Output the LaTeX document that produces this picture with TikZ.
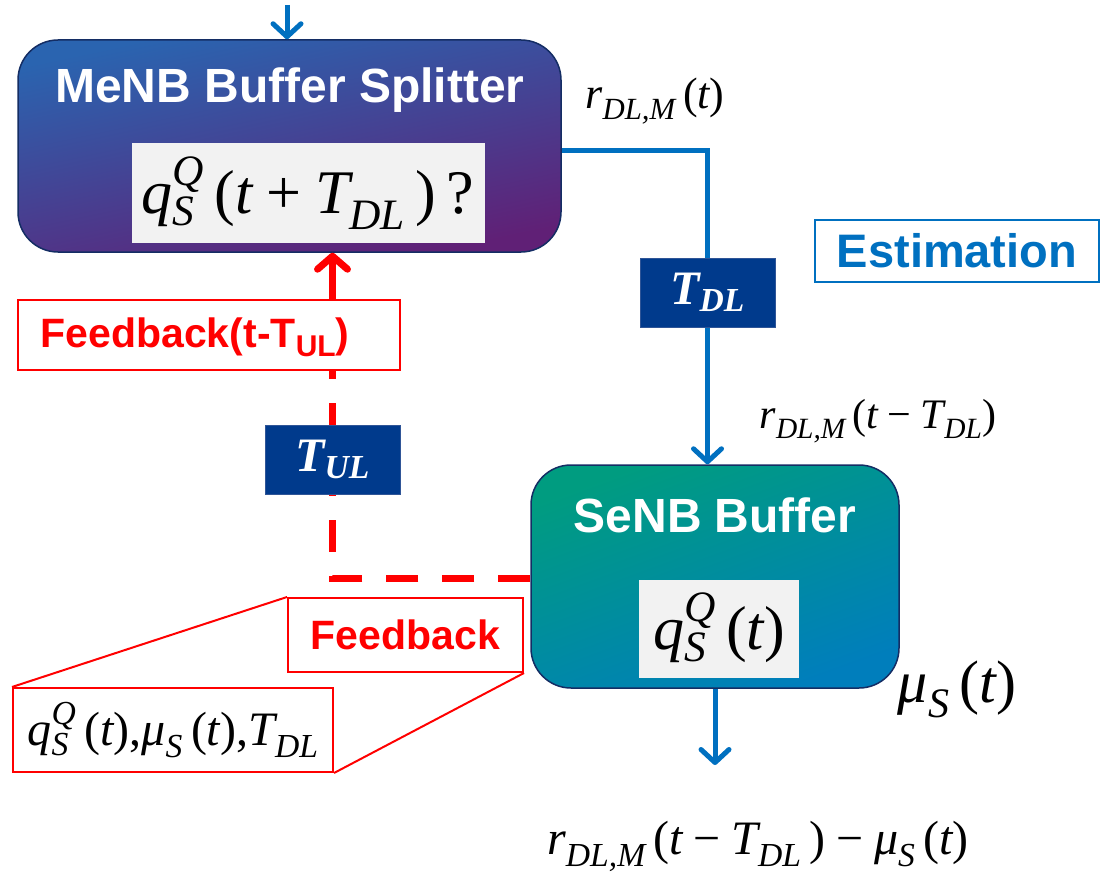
\documentclass[tikz,border=0pt]{standalone}
\usepackage{fix-cm}
\usepackage{amsmath}
\usepackage{fontspec}
\setmainfont{Liberation Serif}
\newfontfamily\headfont{Liberation Sans}
\newfontfamily\tms{Liberation Serif}
\usetikzlibrary{arrows.meta}

% italic / upright letters of the formulas
\newcommand\mi[1]{\text{\tms\itshape #1}}
\newcommand\mr[1]{\text{\tms\upshape #1}}
\newcommand\mbi[1]{\text{\tms\bfseries\itshape #1}}
% invisible descender, so that subscripts sit lower
\newcommand\lo{\vphantom{\mi{q}}}
\newcommand\fs[1]{\fontsize{#1}{#1}\selectfont}
\newcommand\op{\mathbin{\mr{−}}}

\definecolor{lineblue}{RGB}{0,112,192}
\definecolor{navy}{RGB}{0,58,140}
\definecolor{navyedge}{RGB}{47,85,151}
\definecolor{boxedge}{RGB}{20,45,100}
\definecolor{menbA}{RGB}{42,100,176}
\definecolor{menbB}{RGB}{96,32,118}
\definecolor{senbA}{RGB}{0,156,128}
\definecolor{senbB}{RGB}{0,126,188}
\definecolor{panel}{RGB}{242,242,242}
\definecolor{fbred}{RGB}{255,0,0}

\tikzset{
  bufbox/.style={draw=boxedge, line width=1.5pt, rounded corners=40pt,
    inner sep=0pt},
  panelbox/.style={fill=panel, draw=none, inner sep=0pt},
  delaybox/.style={fill=navy, draw=navyedge, line width=1pt, inner sep=0pt,
    text=white, minimum width=135pt, minimum height=69pt},
  headtext/.style={text=white, font=\headfont\bfseries\fs{48}},
  redbox/.style={draw=fbred, line width=2pt, fill=white, inner sep=0pt},
  redtext/.style={text=fbred, font=\headfont\bfseries\fs{41}},
  flow/.style={draw=lineblue, line width=5pt,
    -{Straight Barb[length=13pt,width=28pt,round]}},
  flowline/.style={draw=lineblue, line width=5pt},
  fbdash/.style={draw=fbred, line width=7pt, dash pattern=on 32pt off 24pt},
  fbarrow/.style={draw=fbred, line width=7pt,
    -{Straight Barb[length=13pt,width=30pt,round]}},
  lbl/.style={inner sep=0pt, text=black},
}

\begin{document}
\begin{tikzpicture}[x=1pt, y=-1pt]
\useasboundingbox (0,0) rectangle (1102,880);

% ---------- MeNB buffer splitter ----------
\node[bufbox, top color=menbA, bottom color=menbB, shading angle=12,
      minimum width=543pt, minimum height=212pt] (menb) at (289.5,146) {};
\node[headtext] (menbt) at (290,90) {MeNB Buffer Splitter};
\node[panelbox, minimum width=353pt, minimum height=100pt] (menbp) at (308.5,193) {};
\node[lbl, font=\fs{62}] (menbf) at (308,193)
  {$\mi{q}^{\mi{Q}}_{\mi{S}}\,\mr{(}\mi{t}\mathbin{\mr{+}}{\mi{T}\lo}_{\mi{DL}}\,\mr{)}\,\mr{?}$};

% ---------- SeNB buffer ----------
\node[bufbox, top color=senbA, bottom color=senbB, shading angle=20,
      minimum width=368pt, minimum height=223pt] (senb) at (715,576.5) {};
\node[headtext] (senbt) at (715,515) {SeNB Buffer};
\node[panelbox, minimum width=160pt, minimum height=98pt] (senbp) at (719,629) {};
\node[lbl, font=\fs{62}] (senbf) at (719,628)
  {$\mi{q}^{\mi{Q}}_{\mi{S}}\,\mr{(}\mi{t}\mr{)}$};

% ---------- delays ----------
\node[delaybox] (tdl) at (707.5,292.5)
  {\fs{48}$\mbi{T}_{\mbi{DL}}$};
\node[delaybox] (tul) at (332.5,459.5)
  {\fs{48}$\mbi{T}_{\mbi{UL}}$};

% ---------- estimation tag ----------
\node[draw=lineblue, line width=2pt, inner sep=0pt, minimum width=284pt,
      minimum height=62pt, text=lineblue, font=\headfont\bfseries\fs{47}]
  (est) at (957,251) {Estimation};

% ---------- rate labels ----------
\node[lbl, font=\fs{44}] (r1) at (655,101)
  {${\mi{r}\lo}_{\mi{DL,M}}\,\mr{(}\mi{t}\mr{)}$};
\node[lbl, font=\fs{42}] (r2) at (878,421)
  {${\mi{r}\lo}_{\mi{DL,M}}\,\mr{(}\mi{t}\op{\mi{T}\lo}_{\mi{DL}}\mr{)}$};
\node[lbl, font=\fs{60}] (mu) at (957,689)
  {$\mi{μ}_{\mi{S}}\,\mr{(}\mi{t}\mr{)}$};
\node[lbl, font=\fs{48}] (rout) at (758,846)
  {${\mi{r}\lo}_{\mi{DL,M}}\,\mr{(}\mi{t}\op{\mi{T}\lo}_{\mi{DL}}\,\mr{)}\op\mi{μ}_{\mi{S}}\,\mr{(}\mi{t}\mr{)}$};

% ---------- downlink flow ----------
\coordinate (in) at (287,5);
\coordinate (out) at (715,765);
\draw[flow] (in) -- (in |- menb.north);
\draw[flowline] (menb.east |- 0,150) -| (tdl.north);
\draw[flow] (tdl.south) -- (tdl.south |- senb.north);
\draw[flow] (senb.south -| out) -- (out);

% ---------- uplink feedback ----------
\draw[fbdash] (senb.west |- 0,578) -| (tul.south);
\draw[fbdash, dash phase=10pt] (tul.north) -- (tul.north |- 0,370);

\node[redbox, minimum width=382pt, minimum height=70pt] (fbt) at (209,335) {};
\node[redtext] (fbtt) at (195,337)
  {Feedback(t-T\raisebox{-9pt}{\fs{30}UL})};
\draw[fbarrow] (fbt.north -| tul.north) -- (tul.north |- menb.south);

\node[redbox, minimum width=235pt, minimum height=74pt, redtext] (fb) at (405.5,635) {Feedback};
\node[redbox, minimum width=320pt, minimum height=84pt] (fbv) at (173,730)
  {\fs{48}$\mi{q}^{\mi{Q}}_{\mi{S}}\,\mr{(}\mi{t}\mr{)}\mr{,}\mi{μ}_{\mi{S}}\,\mr{(}\mi{t}\mr{)}\mr{,}{\mi{T}\lo}_{\mi{DL}}$};
\draw[fbred, line width=2pt] (fb.north west) -- (fbv.north west);
\draw[fbred, line width=2pt] (fb.south east) -- (fbv.south east);
\end{tikzpicture}
\end{document}
